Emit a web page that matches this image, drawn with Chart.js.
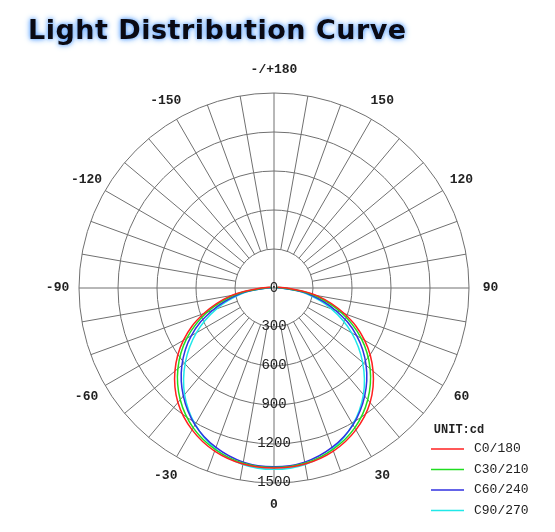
<!DOCTYPE html>
<html>
<head>
<meta charset="utf-8">
<script src="https://cdn.jsdelivr.net/npm/chart.js@4.4.1/dist/chart.umd.min.js"></script>
<style>
  body { margin: 0; background: #fff; }
  #wrap { position: relative; width: 555px; height: 532px; }
  #title {
    position: absolute; left: 28px; top: 14px;
    font-family: "DejaVu Sans", sans-serif; font-size: 27px; font-weight: bold;
    color: #0a0a14; letter-spacing: 0.5px;
    text-shadow: 0 0 4px #5aa0ff, 0 0 7px #8fc0ff;
  }
</style>
</head>
<body>
<div id="wrap">
  <canvas id="chart" width="555" height="532"></canvas>
  <div id="title">Light Distribution Curve</div>
</div>
<script>
// angles in degrees from nadir, intensities in cd (same on both sides)
const angles = [0, 10, 20, 30, 40, 50, 60, 70, 80, 90, 100];
const c0 = [1385, 1375, 1335, 1260, 1150, 995, 805, 575, 335, 100, 30];
const c30 = [1380, 1368, 1322, 1242, 1122, 965, 775, 550, 310, 80, 25];
const c60 = [1375, 1360, 1305, 1215, 1085, 925, 735, 505, 275, 65, 20];
const c90 = [1395, 1378, 1318, 1212, 1070, 890, 690, 470, 250, 55, 15];
const seriesNames = ["C0/180", "C30/210", "C60/240", "C90/270"];
const seriesColors = ["#ff2020", "#20dd20", "#3030e0", "#20e8e8"];
const ringTicks = [300, 600, 900, 1200, 1500];
const angleTicks = [0, 30, 60, 90, 120, 150, 180, -150, -120, -90, -60, -30];

function toPoints(vals) {
  const pts = [];
  // left side from 100 down to 0, then right side 0 up to 100
  for (let i = angles.length - 1; i >= 0; i--) {
    const a = -angles[i] * Math.PI / 180;
    pts.push({ x: vals[i] * Math.sin(a), y: -vals[i] * Math.cos(a) });
  }
  for (let i = 1; i < angles.length; i++) {
    const a = angles[i] * Math.PI / 180;
    pts.push({ x: vals[i] * Math.sin(a), y: -vals[i] * Math.cos(a) });
  }
  return pts;
}

const polarGrid = {
  id: "polarGrid",
  beforeDatasetsDraw(chart) {
    const ctx = chart.ctx;
    const xs = chart.scales.x, ys = chart.scales.y;
    const cx = xs.getPixelForValue(0), cy = ys.getPixelForValue(0);
    const k = xs.getPixelForValue(1500) - cx;
    const px = v => v / 1500 * k;
    ctx.save();
    ctx.strokeStyle = "#707070";
    ctx.lineWidth = 1;
    ringTicks.forEach(r => {
      ctx.beginPath();
      ctx.arc(cx, cy, px(r), 0, Math.PI * 2);
      ctx.stroke();
    });
    for (let d = 0; d < 360; d += 10) {
      const a = d * Math.PI / 180;
      const r0 = (d % 90 === 0) ? 0 : px(300);
      ctx.beginPath();
      ctx.moveTo(cx + r0 * Math.sin(a), cy + r0 * Math.cos(a));
      ctx.lineTo(cx + k * Math.sin(a), cy + k * Math.cos(a));
      ctx.stroke();
    }
    ctx.fillStyle = "#222";
    ctx.font = "bold 13px 'Liberation Mono', monospace";
    ctx.textAlign = "center";
    ctx.textBaseline = "middle";
    angleTicks.forEach(d => {
      const a = d * Math.PI / 180;
      const r = k * 1.11;
      ctx.fillText(d === 180 ? "-/+180" : String(d), cx + r * Math.sin(a), cy + r * Math.cos(a) - (d === 180 ? 2 : 0));
    });
    ctx.restore();
  },
  afterDatasetsDraw(chart) {
    const ctx = chart.ctx;
    const xs = chart.scales.x, ys = chart.scales.y;
    const cx = xs.getPixelForValue(0), cy = ys.getPixelForValue(0);
    ctx.save();
    ctx.fillStyle = "#222";
    ctx.font = "14px 'Liberation Mono', monospace";
    ctx.textAlign = "center";
    ctx.textBaseline = "middle";
    ctx.fillText("0", cx, cy);
    ringTicks.forEach(r => ctx.fillText(String(r), cx, ys.getPixelForValue(-r) - 1));
    // legend
    ctx.font = "bold 12px 'Liberation Mono', monospace";
    ctx.fillText("UNIT:cd", 459, 430);
    ctx.font = "13px 'Liberation Mono', monospace";
    ctx.textAlign = "left";
    seriesNames.forEach((n, i) => {
      const y = 449 + i * 20.5;
      ctx.strokeStyle = seriesColors[i];
      ctx.lineWidth = 1.5;
      ctx.beginPath(); ctx.moveTo(431, y); ctx.lineTo(464, y); ctx.stroke();
      ctx.fillText(n, 474, y);
    });
    ctx.restore();
  }
};

const datasets = [c0, c30, c60, c90].map((vals, i) => ({
  label: seriesNames[i],
  data: toPoints(vals),
  showLine: true,
  borderColor: seriesColors[i],
  borderWidth: 1.5,
  pointRadius: 0,
  tension: 0.4,
  fill: false
}));

new Chart(document.getElementById("chart"), {
  type: "scatter",
  data: { datasets: datasets },
  options: {
    responsive: false,
    animation: false,
    layout: { padding: { left: 79, right: 86, top: 93, bottom: 49 } },
    plugins: { legend: { display: false }, tooltip: { enabled: false } },
    scales: {
      x: { type: "linear", min: -1500, max: 1500, display: false },
      y: { type: "linear", min: -1500, max: 1500, display: false }
    }
  },
  plugins: [polarGrid]
});
</script>
</body>
</html>
